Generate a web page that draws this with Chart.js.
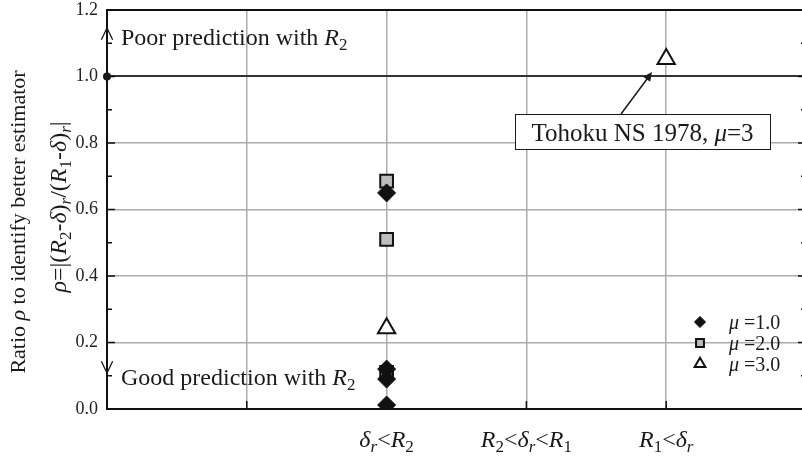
<!DOCTYPE html>
<html>
<head>
<meta charset="utf-8">
<script src="https://cdn.jsdelivr.net/npm/chart.js@4"></script>
<style>
  body { margin: 0; overflow: hidden; background: #fff; }
  #wrap { width: 808px; height: 457px; position: relative; }
</style>
</head>
<body>
<div id="wrap"><canvas id="chart"></canvas></div>
<script>
// categories sit on the x grid at these positions
const catPos = [2, 3, 4];
const catLabels = ['δr<R2', 'R2<δr<R1', 'R1<δr'];

// each point: category index + rho value
const mu1Cat = [0, 0, 0, 0];
const mu1Rho = [0.65, 0.12, 0.09, 0.012];
const mu2Cat = [0, 0, 0];
const mu2Rho = [0.685, 0.51, 0.11];
const mu3Cat = [0, 2];
const mu3Rho = [0.243, 1.053];

const yTicks = [0.0, 0.2, 0.4, 0.6, 0.8, 1.0, 1.2];

const FONT = '"Liberation Serif", "Times New Roman", serif';

function pts(cats, vals) {
    return vals.map((v, i) => ({ x: catPos[cats[i]], y: v }));
}

// draw a line of mixed text: parts = [[text, style]], style: n normal, i italic, s subscript, si italic subscript
function rich(ctx, parts, x, y, size, align) {
    const fontOf = (st) => {
        const sz = st[0] === 's' ? Math.round(size * 0.7) : size;
        const it = st.indexOf('i') >= 0 ? 'italic ' : '';
        return it + sz + 'px ' + FONT;
    };
    let total = 0;
    parts.forEach(([t, st]) => { ctx.font = fontOf(st); total += ctx.measureText(t).width; });
    let cx = align === 'center' ? x - total / 2 : (align === 'right' ? x - total : x);
    ctx.textAlign = 'left';
    ctx.textBaseline = 'alphabetic';
    parts.forEach(([t, st]) => {
        ctx.font = fontOf(st);
        const dy = st[0] === 's' ? size * 0.22 : 0;
        ctx.fillText(t, cx, y + dy);
        cx += ctx.measureText(t).width;
    });
}

function arrowHead(ctx, x1, y1, x2, y2, len, filled) {
    const a = Math.atan2(y2 - y1, x2 - x1);
    ctx.beginPath();
    ctx.moveTo(x2 - len * Math.cos(a - 0.45), y2 - len * Math.sin(a - 0.45));
    ctx.lineTo(x2, y2);
    ctx.lineTo(x2 - len * Math.cos(a + 0.45), y2 - len * Math.sin(a + 0.45));
    if (filled) { ctx.closePath(); ctx.fill(); } else { ctx.stroke(); }
}

const extras = {
    id: 'extras',
    beforeDatasetsDraw(chart) {
        const { ctx, chartArea: a, scales: { x, y } } = chart;
        ctx.save();
        ctx.strokeStyle = '#111';
        ctx.lineWidth = 1.5;
        // minor / major ticks on left and right, pointing inside
        for (let k = 1; k < 12; k++) {
            const py = y.getPixelForValue(k / 10);
            const len = k % 2 ? 5 : 8;
            ctx.beginPath();
            ctx.moveTo(a.left, py); ctx.lineTo(a.left + len, py);
            ctx.moveTo(a.right, py); ctx.lineTo(a.right - len, py);
            ctx.stroke();
        }
        // bottom ticks
        for (let k = 1; k < 5; k++) {
            const px = x.getPixelForValue(k);
            ctx.beginPath();
            ctx.moveTo(px, a.bottom); ctx.lineTo(px, a.bottom - 8);
            ctx.stroke();
        }
        ctx.restore();
    },
    afterDatasetsDraw(chart) {
        const { ctx, chartArea: a, scales: { x, y } } = chart;
        ctx.save();
        ctx.fillStyle = '#1a1a1a';
        ctx.strokeStyle = '#1a1a1a';

        // dot on the 1.0 line
        ctx.beginPath();
        ctx.arc(a.left, y.getPixelForValue(1.0), 4, 0, Math.PI * 2);
        ctx.fill();

        // arrows on the left axis
        ctx.lineWidth = 1.3;
        arrowHead(ctx, a.left, 45, a.left, 28, 13, false);
        arrowHead(ctx, a.left, 355, a.left, 373, 13, false);

        rich(ctx, [['Poor prediction with ', 'n'], ['R', 'i'], ['2', 's']], 121, 45, 24, 'left');
        rich(ctx, [['Good prediction with ', 'n'], ['R', 'i'], ['2', 's']], 121, 385, 24, 'left');

        // annotation box
        const bx = 515, by = 114, bw = 255, bh = 35;
        ctx.fillStyle = '#fff';
        ctx.fillRect(bx, by, bw, bh);
        ctx.lineWidth = 1;
        ctx.strokeRect(bx + 0.5, by + 0.5, bw, bh);
        ctx.fillStyle = '#1a1a1a';
        rich(ctx, [['Tohoku NS 1978, ', 'n'], ['μ', 'i'], ['=3', 'n']], bx + bw / 2, by + 27, 25, 'center');
        ctx.lineWidth = 1.5;
        ctx.beginPath();
        ctx.moveTo(621, by);
        ctx.lineTo(650, 75);
        ctx.stroke();
        arrowHead(ctx, 621, by, 652, 72, 10, true);

        // x category labels
        catPos.forEach((p, i) => {
            const px = x.getPixelForValue(p);
            let parts;
            if (i === 0) parts = [['δ', 'i'], ['r', 'si'], ['<', 'n'], ['R', 'i'], ['2', 's']];
            else if (i === 1) parts = [['R', 'i'], ['2', 's'], ['<', 'n'], ['δ', 'i'], ['r', 'si'], ['<', 'n'], ['R', 'i'], ['1', 's']];
            else parts = [['R', 'i'], ['1', 's'], ['<', 'n'], ['δ', 'i'], ['r', 'si']];
            rich(ctx, parts, px, 447, 24, 'center');
        });

        // y title, two rotated lines
        ctx.save();
        ctx.translate(25, 222);
        ctx.rotate(-Math.PI / 2);
        rich(ctx, [['Ratio ', 'n'], ['ρ', 'i'], [' to identify better estimator', 'n']], 0, 0, 22, 'center');
        ctx.restore();
        ctx.save();
        ctx.translate(66, 207);
        ctx.rotate(-Math.PI / 2);
        rich(ctx, [['ρ', 'i'], ['=|(', 'n'], ['R', 'i'], ['2', 's'], ['-', 'n'], ['δ', 'i'], [')', 'n'], ['r', 'si'], ['/(', 'n'],
                   ['R', 'i'], ['1', 's'], ['-', 'n'], ['δ', 'i'], [')', 'n'], ['r', 'si'], ['|', 'n']], 0, 0, 24, 'center');
        ctx.restore();

        // legend
        const items = [
            { ds: 0, y: 322, label: '1.0' },
            { ds: 1, y: 343, label: '2.0' },
            { ds: 2, y: 364, label: '3.0' }
        ];
        items.forEach((it) => {
            const d = chart.data.datasets[it.ds];
            ctx.save();
            ctx.fillStyle = d.backgroundColor;
            ctx.strokeStyle = d.borderColor;
            ctx.lineWidth = d.borderWidth;
            Chart.helpers.drawPoint(ctx, { pointStyle: d.pointStyle, radius: d.pointRadius * 0.62, borderWidth: d.borderWidth }, 700, it.y);
            ctx.restore();
            ctx.fillStyle = '#1a1a1a';
            rich(ctx, [['μ', 'i'], [' =' + it.label, 'n']], 729, it.y + 7, 20, 'left');
        });
        ctx.restore();
    }
};

new Chart(document.getElementById('chart'), {
    type: 'scatter',
    data: {
        datasets: [
            { label: 'μ =1.0', data: pts(mu1Cat, mu1Rho), pointStyle: 'rectRot', pointRadius: 9,
              backgroundColor: '#111', borderColor: '#111', borderWidth: 1 },
            { label: 'μ =2.0', data: pts(mu2Cat, mu2Rho), pointStyle: 'rect', pointRadius: 9,
              backgroundColor: '#bdbdbd', borderColor: '#111', borderWidth: 2 },
            { label: 'μ =3.0', data: pts(mu3Cat, mu3Rho), pointStyle: 'triangle', pointRadius: 10,
              backgroundColor: '#fff', borderColor: '#111', borderWidth: 2 }
        ]
    },
    plugins: [extras],
    options: {
        responsive: true,
        maintainAspectRatio: false,
        animation: false,
        layout: { autoPadding: false, padding: { left: 0, top: 10, right: 2, bottom: 0 } },
        plugins: { legend: { display: false }, tooltip: { enabled: false } },
        scales: {
            x: {
                type: 'linear', min: 0, max: 5,
                ticks: { display: false, stepSize: 1 },
                grid: {
                    drawTicks: false,
                    color: (c) => (c.tick && c.tick.value > 0 && c.tick.value < 5) ? '#ababab' : 'rgba(0,0,0,0)',
                    lineWidth: 1.5
                },
                border: { color: '#111', width: 2 },
                afterFit: (s) => { s.height = 48; s.paddingLeft = 0; s.paddingRight = 0; }
            },
            y: {
                type: 'linear', min: 0, max: 1.2,
                afterBuildTicks: (s) => { s.ticks = yTicks.map((v) => ({ value: v })); },
                ticks: {
                    padding: 9,
                    color: '#222',
                    font: { family: FONT, size: 18 },
                    callback: (v) => Number(v).toFixed(1)
                },
                grid: {
                    drawTicks: false,
                    color: (c) => {
                        const v = c.tick ? Math.round(c.tick.value * 10) : 0;
                        if (v === 0) return 'rgba(0,0,0,0)';
                        if (v === 10) return '#333';
                        if (v === 12) return '#111';
                        return '#ababab';
                    },
                    lineWidth: (c) => {
                        const v = c.tick ? Math.round(c.tick.value * 10) : 0;
                        return (v === 10 || v === 12) ? 2 : 1.5;
                    }
                },
                border: { color: '#111', width: 2 },
                afterFit: (s) => { s.width = 107; s.paddingTop = 0; s.paddingBottom = 0; }
            }
        }
    }
});
</script>
</body>
</html>
